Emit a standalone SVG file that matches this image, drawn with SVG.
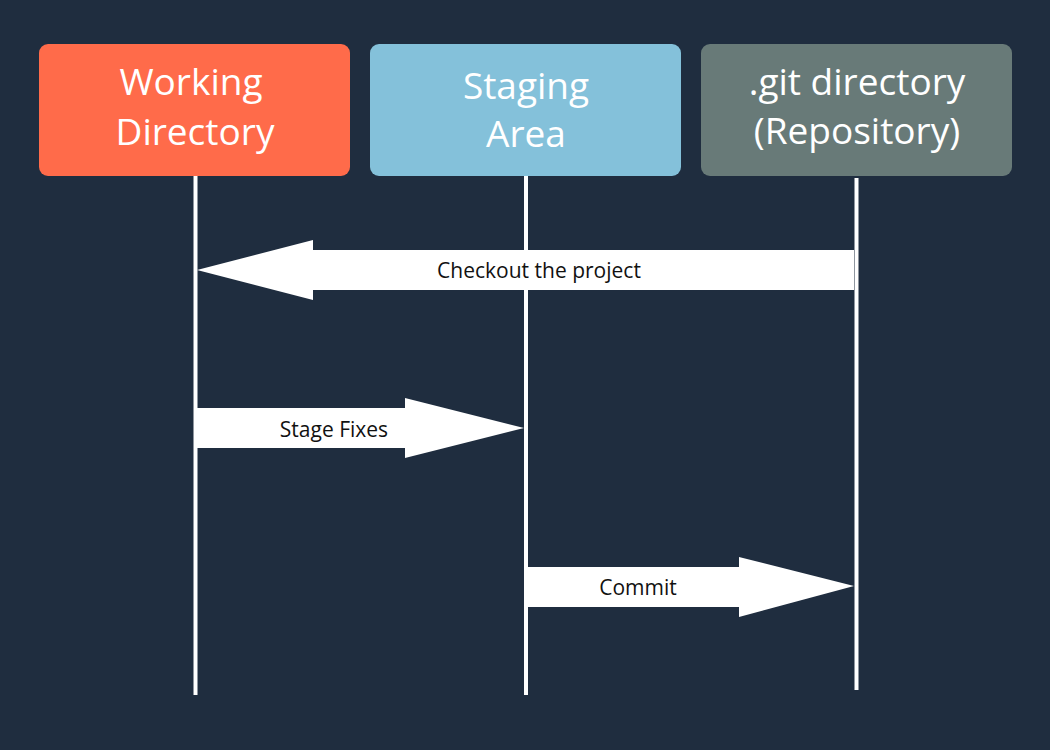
<svg xmlns="http://www.w3.org/2000/svg" width="1050" height="750" viewBox="0 0 1050 750">
<style>
.title{font-family:"Open Sans","Liberation Sans",sans-serif;font-size:37px;fill:#ffffff;text-anchor:middle}
.lbl{font-family:"Open Sans","Liberation Sans",sans-serif;font-size:21px;fill:#111111;text-anchor:middle}
.life{stroke:#ffffff;stroke-width:4;fill:none}
.arrow{fill:#ffffff}
</style>
<rect x="0" y="0" width="1050" height="750" fill="#1f2d3f"/>
<g id="connectors">
<line class="life" x1="195.5" y1="176" x2="195.5" y2="695"/>
<line class="life" x1="526" y1="176" x2="526" y2="695"/>
<line class="life" x1="856.5" y1="178" x2="856.5" y2="690"/>
<g id="checkout">
<polygon class="arrow" points="854,250 313,250 313,240 197,270 313,300 313,290 854,290"/>
<text class="lbl" x="539" y="278">Checkout the project</text>
</g>
<g id="stage">
<polygon class="arrow" points="197,408 405,408 405,398 524,428 405,458 405,448 197,448"/>
<text class="lbl" x="334" y="437">Stage Fixes</text>
</g>
<g id="commit">
<polygon class="arrow" points="528,567 739,567 739,557 854,586 739,617 739,607 528,607"/>
<text class="lbl" x="638" y="595">Commit</text>
</g>
</g>
<g id="working">
<rect x="39" y="44" width="311" height="132" rx="9" fill="#ff6b4a"/>
<text class="title" x="191" y="95">Working</text>
<text class="title" x="195" y="145">Directory</text>
</g>
<g id="staging">
<rect x="370" y="44" width="311" height="132" rx="9" fill="#84c1da"/>
<text class="title" x="526" y="99">Staging</text>
<text class="title" x="526" y="147">Area</text>
</g>
<g id="repo">
<rect x="701" y="44" width="311" height="132" rx="9" fill="#687a78"/>
<text class="title" x="857" y="95">.git directory</text>
<text class="title" x="857" y="144">(Repository)</text>
</g>
</svg>
